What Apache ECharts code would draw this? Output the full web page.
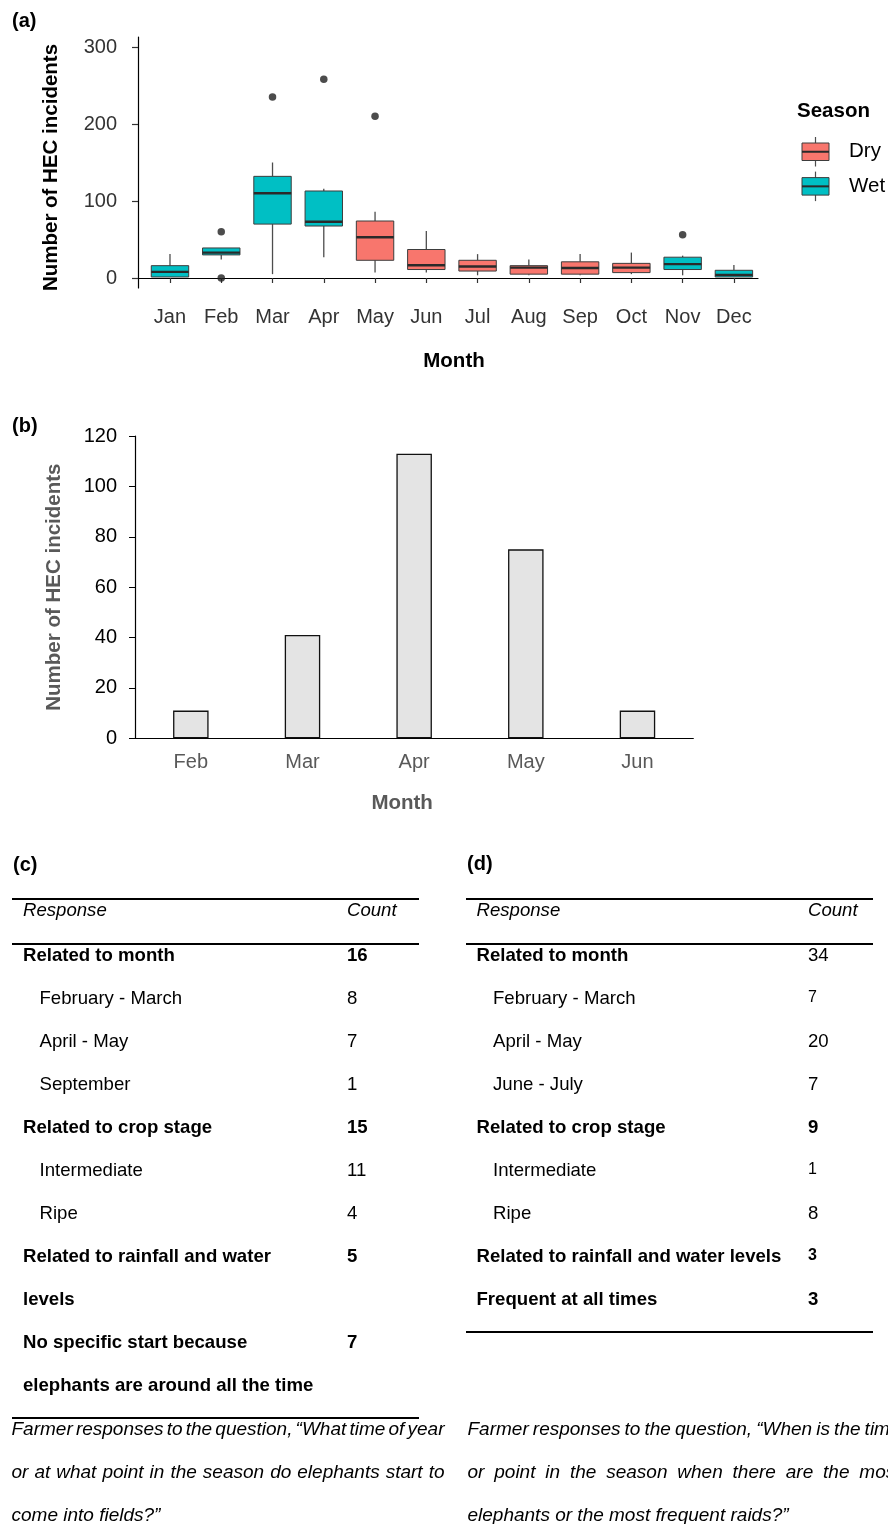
<!DOCTYPE html>
<html>
<head>
<meta charset="utf-8">
<script src="https://cdn.jsdelivr.net/npm/echarts@6/dist/echarts.min.js"></script>
<style>
html,body{margin:0;padding:0;background:#ffffff;}
#chart{width:888px;height:1524px;}
</style>
</head>
<body>
<div id="chart"></div>
<script>
// ---------- DATA ----------
// Panel (a): monthly HEC incidents box plots
const monthsA = ['Jan','Feb','Mar','Apr','May','Jun','Jul','Aug','Sep','Oct','Nov','Dec'];
const seasonA = ['Wet','Wet','Wet','Wet','Dry','Dry','Dry','Dry','Dry','Dry','Wet','Wet'];
const boxMin = [1.3, 24, 5, 27, 7, 7, 3.5, 3.5, 3.5, 5, 3.5, 1.3];
const boxQ1  = [1.3, 30, 70, 67.5, 23, 11, 9, 5, 5, 7, 11, 1.3];
const boxMed = [8, 33, 110, 73, 53, 16.5, 15, 13.5, 13, 13.5, 18, 4];
const boxQ3  = [16, 39, 132, 113, 74, 37, 23, 16, 21, 19, 27, 10];
const boxMax = [31, 39, 150, 116, 86, 61, 31, 24, 31, 33, 29, 17];
const outlierMonth = ['Feb','Feb','Mar','Apr','May','Nov'];
const outlierValue = [60, 0, 235, 258, 210, 56];
const yTicksA = [0, 100, 200, 300];
const seasons = ['Dry','Wet'];

// Panel (b): bar chart
const monthsB = ['Feb','Mar','Apr','May','Jun'];
const countsB = [11, 41, 113, 75, 11];

// Panel (c): table
const respC  = ['Related to month','February - March','April - May','September','Related to crop stage','Intermediate','Ripe','Related to rainfall and water levels','No specific start because elephants are around all the time'];
const countC = [16, 8, 7, 1, 15, 11, 4, 5, 7];
const levelC = [0, 1, 1, 1, 0, 1, 1, 0, 0];
const captionC = ['Farmer responses to the question, \u201cWhat time of year', 'or at what point in the season do elephants start to', 'come into fields?\u201d'];

// Panel (d): table
const respD  = ['Related to month','February - March','April - May','June - July','Related to crop stage','Intermediate','Ripe','Related to rainfall and water levels','Frequent at all times'];
const countD = [34, 7, 20, 7, 9, 1, 8, 3, 3];
const levelD = [0, 1, 1, 1, 0, 1, 1, 0, 0];
const captionD = ['Farmer responses to the question, \u201cWhen is the time', 'or point in the season when there are the most', 'elephants or the most frequent raids?\u201d'];

// ---------- STYLE ----------
const FONT = '"Liberation Sans", Arial, Helvetica, sans-serif';
const COLORS = { Dry: '#F8766D', Wet: '#00BFC4' };
const plainCountRowsD = [0];
const smallCountRowsD = [1, 5, 7];

const mctx = document.createElement('canvas').getContext('2d');
function measure(text, size, weight, style) {
  mctx.font = (style || 'normal') + ' ' + (weight || 'normal') + ' ' + size + 'px ' + FONT;
  return mctx.measureText(text).width;
}
function txt(text, x, y, o) {
  o = o || {};
  const al = o.align || 'left';
  return {
    type: 'text', x: x, y: y, silent: true,
    style: {
      text: text, fill: o.color || '#000',
      fontSize: o.size || 18.6, fontWeight: o.weight || 'normal',
      fontStyle: o.style || 'normal', fontFamily: FONT,
      textAlign: al, align: al, textVerticalAlign: 'middle', verticalAlign: 'middle'
    }
  };
}
function hline(x1, x2, y, w) {
  return { type: 'line', silent: true, shape: { x1: x1, y1: y, x2: x2, y2: y }, style: { stroke: '#000', lineWidth: w || 1.8 } };
}
function wrap(text, width, size, weight) {
  const words = text.split(' ');
  const lines = [];
  let cur = '';
  words.forEach(w => {
    const t = cur ? cur + ' ' + w : w;
    if (cur && measure(t, size, weight) > width) { lines.push(cur); cur = w; }
    else cur = t;
  });
  if (cur) lines.push(cur);
  return lines;
}

const graphics = [];
// panel labels
graphics.push(txt('(a)', 12, 21, { weight: 'bold', size: 20 }));
graphics.push(txt('(b)', 12, 426, { weight: 'bold', size: 20 }));
graphics.push(txt('(c)', 13, 865, { weight: 'bold', size: 20 }));
graphics.push(txt('(d)', 467, 864, { weight: 'bold', size: 20 }));

// legend for (a)
graphics.push(txt('Season', 797, 111, { weight: 'bold', size: 20.5 }));
seasons.forEach((s, i) => {
  const top = 143 + i * 34.6, h = 17.5, cx = 815.5;
  graphics.push({ type: 'line', silent: true, shape: { x1: cx, y1: top - 6, x2: cx, y2: top + h + 6 }, style: { stroke: '#4d4d4d', lineWidth: 1.2 } });
  graphics.push({ type: 'rect', silent: true, shape: { x: 802, y: top, width: 27, height: h }, style: { fill: COLORS[s], stroke: '#3d3d3d', lineWidth: 1 } });
  graphics.push({ type: 'line', silent: true, shape: { x1: 802, y1: top + h / 2, x2: 829, y2: top + h / 2 }, style: { stroke: '#2a2a2a', lineWidth: 2 } });
  graphics.push(txt(s, 849, top + h / 2, { size: 20.5 }));
});

// tables
function buildTable(resp, counts, level, o) {
  graphics.push(hline(o.x0, o.x1, 899));
  graphics.push(hline(o.x0, o.x1, 944));
  graphics.push(txt('Response', o.tx, 911, { style: 'italic' }));
  graphics.push(txt('Count', o.cx, 911, { style: 'italic' }));
  let y = 956;
  resp.forEach((r, i) => {
    const head = level[i] === 0;
    const weight = head ? 'bold' : 'normal';
    const lines = wrap(r, o.wrapW, 18.6, weight);
    const tx = head ? o.tx : o.tx + 16.5;
    lines.forEach((ln, k) => graphics.push(txt(ln, tx, y + k * 43, { weight: weight })));
    const cBold = head && !(o.plain || []).includes(i);
    const cSmall = (o.small || []).includes(i);
    graphics.push(txt(String(counts[i]), o.cx, cSmall ? y - 1.5 : y, { weight: cBold ? 'bold' : 'normal', size: cSmall ? 16 : 18.6 }));
    y += lines.length * 43;
  });
  graphics.push(hline(o.x0, o.x1, y - 43 + 32));
}
buildTable(respC, countC, levelC, { x0: 12, x1: 419, tx: 23, cx: 347, wrapW: 300 });
buildTable(respD, countD, levelD, { x0: 466, x1: 873, tx: 476.5, cx: 808, wrapW: 325, plain: plainCountRowsD, small: smallCountRowsD });

// captions (justified)
function caption(lines, x, width) {
  lines.forEach((ln, li) => {
    const y = 1430 + li * 43;
    const words = ln.split(' ');
    const ws = words.map(w => measure(w, 19, 'normal', 'italic'));
    const total = ws.reduce((a, b) => a + b, 0);
    const last = li === lines.length - 1;
    const gap = (!last && words.length > 1) ? (width - total) / (words.length - 1) : measure(' ', 19, 'normal', 'italic');
    let cx = x;
    words.forEach((w, i) => {
      graphics.push(txt(w, cx, y, { style: 'italic', size: 19 }));
      cx += ws[i] + gap;
    });
  });
}
caption(captionC, 11.5, 433);
caption(captionD, 467.5, 433);

// ---------- CHART ----------
const chart = echarts.init(document.getElementById('chart'), null, { renderer: 'canvas' });
const xIdxA = monthsA.map((m, i) => i + 1);

const option = {
  backgroundColor: '#ffffff',
  animation: false,
  grid: [
    { left: 138, top: 37, width: 620, height: 251 },
    { left: 135, top: 436, width: 558.3, height: 302.3 }
  ],
  xAxis: [
    {
      gridIndex: 0, type: 'value', min: 0.376, max: 12.47,
      axisLine: { lineStyle: { color: '#000', width: 1.2 } },
      axisTick: { customValues: xIdxA, length: 5, lineStyle: { color: '#333', width: 1.2 } },
      axisLabel: { customValues: xIdxA, formatter: v => monthsA[Math.round(v) - 1], color: '#333', fontSize: 20, fontFamily: FONT, margin: 19 },
      splitLine: { show: false },
      name: 'Month', nameLocation: 'middle', nameGap: 62.5,
      nameTextStyle: { fontSize: 20.5, fontWeight: 'bold', color: '#000', fontFamily: FONT, padding: [0, 0, 0, 12] }
    },
    {
      gridIndex: 1, type: 'category', data: monthsB,
      axisLine: { lineStyle: { color: '#000', width: 1.2 } },
      axisTick: { alignWithLabel: true, length: 5, lineStyle: { color: '#000' } },
      axisLabel: { color: '#595959', fontSize: 20, fontFamily: FONT, margin: 14 },
      name: 'Month', nameLocation: 'middle', nameGap: 55,
      nameTextStyle: { fontSize: 20.5, fontWeight: 'bold', color: '#595959', fontFamily: FONT, padding: [0, 24, 0, 0] }
    }
  ],
  yAxis: [
    {
      gridIndex: 0, type: 'value', min: -13, max: 313,
      axisLine: { show: true, lineStyle: { color: '#000', width: 1.2 } },
      axisTick: { show: true, customValues: yTicksA, length: 6, lineStyle: { color: '#333', width: 1.2 } },
      axisLabel: { customValues: yTicksA, color: '#333', fontSize: 20, fontFamily: FONT, margin: 21 },
      splitLine: { show: false },
      name: 'Number of HEC incidents', nameLocation: 'middle', nameGap: 76,
      nameTextStyle: { fontSize: 20.5, fontWeight: 'bold', color: '#000', fontFamily: FONT, padding: [0, 10, 0, 0] }
    },
    {
      gridIndex: 1, type: 'value', min: 0, max: 120, interval: 20,
      axisLine: { show: true, lineStyle: { color: '#000', width: 1.2 } },
      axisTick: { show: true, length: 6, lineStyle: { color: '#000' } },
      axisLabel: { color: '#000', fontSize: 20, fontFamily: FONT, margin: 18 },
      splitLine: { show: false },
      name: 'Number of HEC incidents', nameLocation: 'middle', nameGap: 70.5,
      nameTextStyle: { fontSize: 20.5, fontWeight: 'bold', color: '#595959', fontFamily: FONT }
    }
  ],
  series: [
    {
      type: 'custom', name: 'HEC box', xAxisIndex: 0, yAxisIndex: 0,
      data: monthsA.map((m, i) => [i + 1, boxMin[i], boxQ1[i], boxMed[i], boxQ3[i], boxMax[i]]),
      renderItem: function (params, api) {
        const x = api.value(0);
        const pMin = api.coord([x, api.value(1)]);
        const pQ1 = api.coord([x, api.value(2)]);
        const pMed = api.coord([x, api.value(3)]);
        const pQ3 = api.coord([x, api.value(4)]);
        const pMax = api.coord([x, api.value(5)]);
        const hw = api.size([0.73, 0])[0] / 2;
        const cx = pMed[0];
        const fill = COLORS[seasonA[params.dataIndex]];
        const wStyle = { stroke: '#4d4d4d', lineWidth: 1.3 };
        return {
          type: 'group',
          children: [
            { type: 'line', shape: { x1: cx, y1: pQ3[1], x2: cx, y2: pMax[1] }, style: wStyle },
            { type: 'line', shape: { x1: cx, y1: pQ1[1], x2: cx, y2: pMin[1] }, style: wStyle },
            { type: 'rect', shape: { x: cx - hw, y: pQ3[1], width: 2 * hw, height: pQ1[1] - pQ3[1] }, style: { fill: fill, stroke: '#3d3d3d', lineWidth: 1 } },
            { type: 'line', shape: { x1: cx - hw, y1: pMed[1], x2: cx + hw, y2: pMed[1] }, style: { stroke: '#2a2a2a', lineWidth: 2.4 } }
          ]
        };
      }
    },
    {
      type: 'scatter', name: 'Outliers', xAxisIndex: 0, yAxisIndex: 0,
      data: outlierMonth.map((m, i) => [monthsA.indexOf(m) + 1, outlierValue[i]]),
      symbol: 'circle', symbolSize: 7.5,
      itemStyle: { color: '#1f1f1f' }
    },
    {
      type: 'bar', name: 'HEC incidents', xAxisIndex: 1, yAxisIndex: 1,
      data: countsB, barWidth: 35.5,
      itemStyle: { color: '#e4e4e4', borderColor: '#111', borderWidth: 1.3 }
    }
  ],
  graphic: graphics
};
chart.setOption(option);
</script>
</body>
</html>
